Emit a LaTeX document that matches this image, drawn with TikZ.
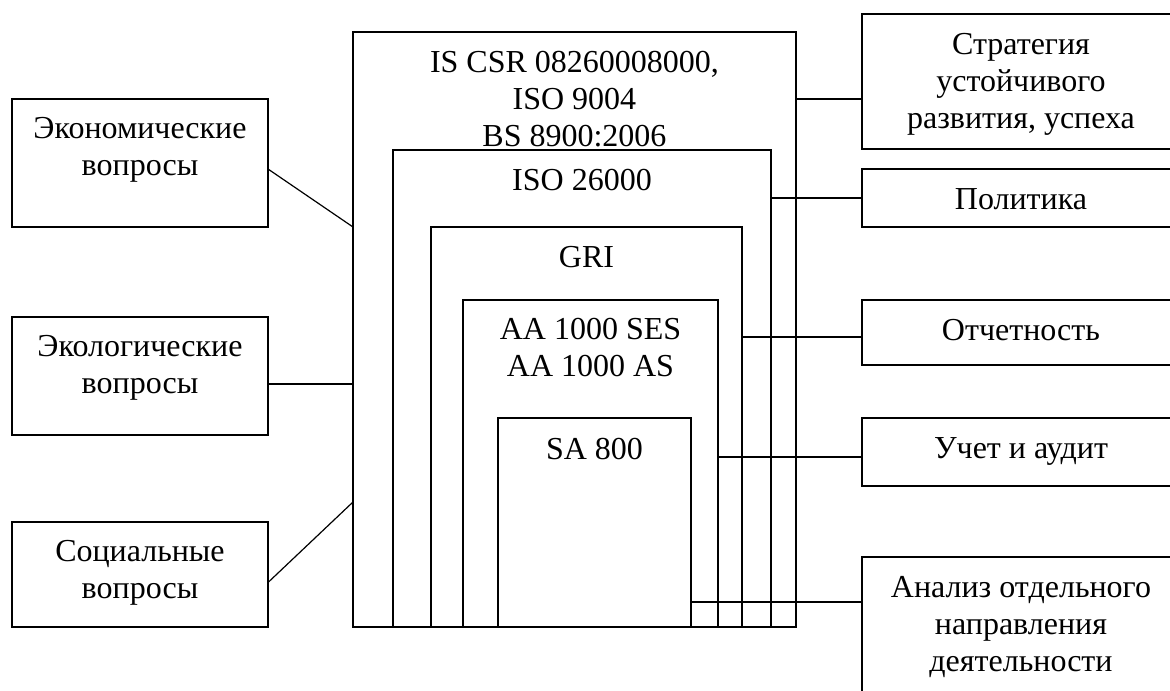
\documentclass[tikz,border=0pt]{standalone}
\usepackage{fontspec}
\setmainfont{Liberation Serif}
\usetikzlibrary{positioning,fit,calc}

\begin{document}
\begin{tikzpicture}[
  x=0.75pt, y=-0.75pt,
  line width=0.9pt,
  every node/.style={font=\fontsize{24pt}{27.75pt}\selectfont},
  box/.style={rectangle, draw, inner sep=0pt, outer sep=0pt},
  lbl/.style={align=center, anchor=base, inner sep=0pt}
]
\useasboundingbox (0,0) rectangle (1170,690);
\fill[white] (0,0) rectangle (1170,690);
\clip (0,0) rectangle (1170,690);

% nested standards
\node[box, fit={(353,32) (796,627)}]  (outer) {};
\node[box, fit={(393,150) (771,627)}] (iso) {};
\node[box, fit={(431,227) (742,627)}] (gri) {};
\node[box, fit={(463,300) (718,627)}] (aa) {};
\node[box, fit={(498,418) (691,627)}] (sa) {};

% base = last line, so shift by 37 per extra line
\node[lbl] (outerT) at ($(outer.north)+(0,114)$) {IS CSR 08260008000,\\ISO 9004\\BS 8900:2006};
\node[lbl] (isoT) at ($(iso.north)+(0,40)$) {ISO 26000};
\node[lbl] (griT) at ($(gri.north)+(0,40)$) {GRI};
\node[lbl] (aaT)  at ($(aa.north)+(0,76)$)  {AA 1000 SES\\AA 1000 AS};
\node[lbl] (saT)  at ($(sa.north)+(0,41)$)  {SA 800};

% left side
\node[box, fit={(12,99) (268,227)}]  (econ) {};
\node[box, fit={(12,317) (268,435)}] (eco) {};
\node[box, fit={(12,522) (268,627)}] (social) {};

\node[lbl] (econT)   at ($(econ.north)+(0,76)$)   {Экономические\\вопросы};
\node[lbl] (ecoT)    at ($(eco.north)+(0,76)$)    {Экологические\\вопросы};
\node[lbl] (socialT) at ($(social.north)+(0,76)$) {Социальные\\вопросы};

% right side
\node[box, fit={(862,14) (1180,149)}]  (strat) {};
\node[box, fit={(862,169) (1180,227)}] (polit) {};
\node[box, fit={(862,300) (1180,365)}] (otch) {};
\node[box, fit={(862,418) (1180,486)}] (uchet) {};
\node[box, fit={(862,557) (1180,700)}] (anl) {};

\node[lbl] (stratT) at ($(strat.north)+(0,114)$) {Стратегия\\устойчивого\\развития, успеха};
\node[lbl] (politT) at ($(polit.north)+(0,40)$) {Политика};
\node[lbl] (otchT)  at ($(otch.north)+(0,40)$)  {Отчетность};
\node[lbl] (uchetT) at ($(uchet.north)+(0,40)$) {Учет и аудит};
\node[lbl] (anlT)   at ($(anl.north)+(0,114)$)  {Анализ отдельного\\направления\\деятельности};

% links
\draw ($(econ.east)+(0,6)$) -- (econ.south -| outer.west);
\draw ($(eco.east)+(0,8)$) -- ($(eco.east -| outer.west)+(0,8)$);
\draw ($(social.east)+(0,8)$) -- ($(outer.south west)+(0,-125)$);

\draw ($(strat.west)+(0,17.5)$) -- ($(strat.west -| outer.east)+(0,17.5)$);
\draw (polit.west) -- (polit.west -| iso.east);
\draw ($(otch.west)+(0,4.5)$) -- ($(otch.west -| gri.east)+(0,4.5)$);
\draw ($(uchet.west)+(0,5)$) -- ($(uchet.west -| aa.east)+(0,5)$);
\draw ($(anl.north west)+(0,45)$) -- ($(anl.north west -| sa.east)+(0,45)$);
\end{tikzpicture}
\end{document}
